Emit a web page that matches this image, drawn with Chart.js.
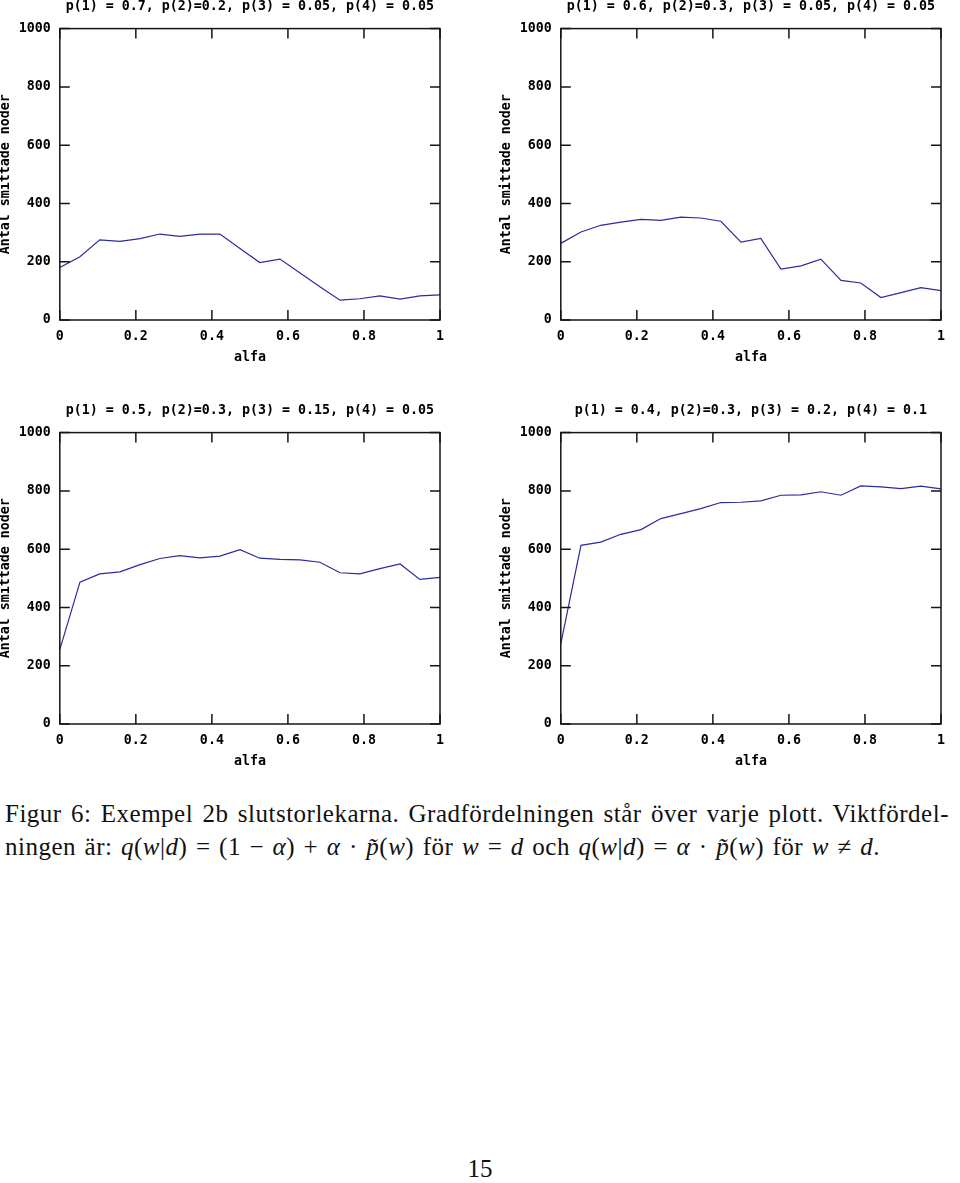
<!DOCTYPE html>
<html>
<head>
<meta charset="utf-8">
<script src="https://cdn.jsdelivr.net/npm/chart.js@4.4.1/dist/chart.umd.min.js"></script>
<style>
  html, body { margin: 0; padding: 0; background: #fff; }
  body { width: 960px; height: 1183px; position: relative; overflow: hidden; }
  canvas { position: absolute; }
  .cap { position: absolute; font-family: "Liberation Serif", "DejaVu Serif", serif; font-size: 25px; line-height: 32.6px; color: #111; white-space: nowrap; letter-spacing: 0.5px; }
  #line1 { left: 5px; top: 798px; width: 944px; text-align: justify; text-align-last: justify; white-space: normal; }
  #line2 { left: 5px; top: 830.6px; word-spacing: 1.8px; }
  #page { left: 0; width: 960px; top: 1153px; text-align: center; letter-spacing: 0; }
</style>
</head>
<body>
<canvas id="c1" width="470" height="370" style="left:-10.5px;top:0px;width:470px;height:370px"></canvas>
<canvas id="c2" width="470" height="370" style="left:491.4px;top:0px;width:470px;height:370px"></canvas>
<canvas id="c3" width="470" height="370" style="left:-10.5px;top:404px;width:470px;height:370px"></canvas>
<canvas id="c4" width="470" height="370" style="left:491.4px;top:404px;width:470px;height:370px"></canvas>

<div class="cap" id="line1">Figur 6: Exempel 2b slutstorlekarna. Gradfördelningen står över varje plott. Viktfördel-</div>
<div class="cap" id="line2">ningen är: <i>q</i>(<i>w</i>|<i>d</i>) = (1 − <i>α</i>) + <i>α</i> · <i>p&#771;</i>(<i>w</i>) för <i>w</i> = <i>d</i> och <i>q</i>(<i>w</i>|<i>d</i>) = <i>α</i> · <i>p&#771;</i>(<i>w</i>) för <i>w</i> ≠ <i>d</i>.</div>
<div class="cap" id="page">15</div>

<script>
// ---- data ----
const alfa = [0, 0.053, 0.105, 0.158, 0.211, 0.263, 0.316, 0.368, 0.421, 0.474,
              0.526, 0.579, 0.632, 0.684, 0.737, 0.789, 0.842, 0.895, 0.947, 1];
const titles = [
  "p(1) = 0.7, p(2)=0.2, p(3) = 0.05, p(4) = 0.05",
  "p(1) = 0.6, p(2)=0.3, p(3) = 0.05, p(4) = 0.05",
  "p(1) = 0.5, p(2)=0.3, p(3) = 0.15, p(4) = 0.05",
  "p(1) = 0.4, p(2)=0.3, p(3) = 0.2, p(4) = 0.1"
];
const noder1 = [180, 217, 275, 270, 279, 295, 287, 295, 295, 245, 197, 209, 161, 114, 68, 73, 83, 72, 83, 86];
const noder2 = [263, 302, 325, 336, 345, 342, 353, 350, 339, 267, 280, 175, 186, 209, 136, 127, 77, 94, 111, 101];
const noder3 = [255, 487, 515, 522, 547, 568, 578, 570, 576, 598, 569, 565, 563, 555, 519, 515, 533, 549, 496, 503];
const noder4 = [275, 613, 624, 651, 667, 705, 722, 739, 760, 761, 766, 785, 786, 797, 785, 817, 814, 808, 816, 807];
const xLabel = "alfa";
const yLabel = "Antal smittade noder";
const xTickStep = 0.2;
const yTickStep = 200;

// ---- drawing ----
const monoFont = { family: "'DejaVu Sans Mono', monospace", size: 13.3, weight: 'bold', lineHeight: 1.2 };
const frameColor = '#151515';

const framePlugin = {
  id: 'frame',
  afterDraw(chart) {
    const { ctx, chartArea: { left, right, top, bottom }, scales: { x, y } } = chart;
    const tl = 10;
    ctx.save();
    ctx.strokeStyle = frameColor;
    ctx.lineWidth = 1.5;
    ctx.beginPath();
    x.ticks.forEach(t => {
      const px = x.getPixelForValue(t.value);
      ctx.moveTo(px, bottom); ctx.lineTo(px, bottom - tl);
      ctx.moveTo(px, top); ctx.lineTo(px, top + tl);
    });
    y.ticks.forEach(t => {
      const py = y.getPixelForValue(t.value);
      ctx.moveTo(left, py); ctx.lineTo(left + tl, py);
      ctx.moveTo(right, py); ctx.lineTo(right - tl, py);
    });
    ctx.stroke();
    ctx.strokeRect(left, top, right - left, bottom - top);
    ctx.restore();
  }
};

function makeChart(id, title, values) {
  new Chart(document.getElementById(id), {
    type: 'line',
    data: {
      datasets: [{
        data: alfa.map((a, i) => ({ x: a, y: values[i] })),
        borderColor: '#2b2ba0',
        borderWidth: 1.2,
        pointRadius: 0,
        tension: 0,
        fill: false
      }]
    },
    options: {
      responsive: false,
      animation: false,
      devicePixelRatio: 1,
      layout: { padding: { top: 0, right: 20, bottom: 0, left: 0 } },
      plugins: {
        legend: { display: false },
        tooltip: { enabled: false },
        title: {
          display: true,
          text: title,
          fullSize: false,
          color: '#000',
          font: { family: "'DejaVu Sans Mono', monospace", size: 13.3, weight: 'bold', lineHeight: 1 },
          padding: { top: 0, bottom: 15.3 }
        }
      },
      scales: {
        x: {
          type: 'linear', min: 0, max: 1,
          ticks: {
            stepSize: xTickStep, color: '#000', font: monoFont, padding: 9, maxRotation: 0,
            callback: v => String(Number(Number(v).toFixed(1)))
          },
          grid: { display: false, drawTicks: false },
          border: { display: false },
          title: { display: true, text: xLabel, color: '#000', font: monoFont, padding: { top: 0, bottom: 4.5 } },
          afterFit(s) { s.height = 50; }
        },
        y: {
          type: 'linear', min: 0, max: 1000,
          ticks: {
            stepSize: yTickStep, color: '#000', font: monoFont, padding: 9,
            callback: v => String(Math.round(v))
          },
          grid: { display: false, drawTicks: false },
          border: { display: false },
          title: { display: true, text: yLabel, color: '#000', font: monoFont, padding: { top: 7.5, bottom: 0 } },
          afterFit(s) { s.width = 69.8; }
        }
      }
    },
    plugins: [framePlugin]
  });
}

makeChart('c1', titles[0], noder1);
makeChart('c2', titles[1], noder2);
makeChart('c3', titles[2], noder3);
makeChart('c4', titles[3], noder4);
</script>
</body>
</html>
